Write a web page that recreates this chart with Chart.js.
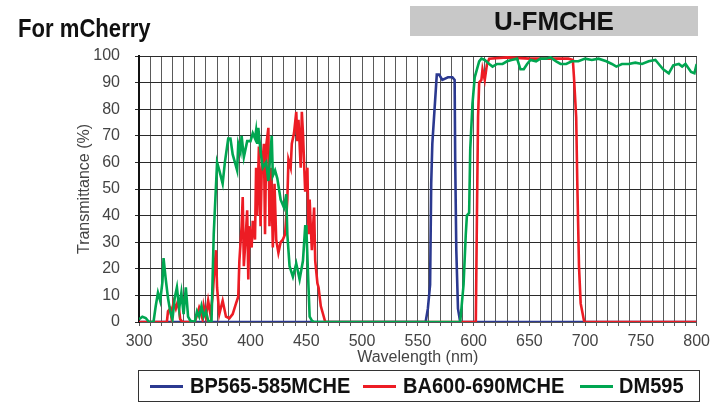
<!DOCTYPE html>
<html>
<head>
<meta charset="utf-8">
<script src="https://cdn.jsdelivr.net/npm/chart.js@4.4.0/dist/chart.umd.min.js"></script>
<style>
  html, body { margin: 0; padding: 0; background: #fff; }
  #wrap { position: relative; width: 716px; height: 405px; overflow: hidden; }
  #chart { position: absolute; left: 0; top: 0; }
  .bold { font-family: "Liberation Sans", Arial, sans-serif; font-weight: bold; color: #111; white-space: nowrap; }
  #title { position: absolute; left: 18px; top: 13px; font-size: 26px; transform: scaleX(0.85); transform-origin: left top; }
  #badge { position: absolute; left: 410px; top: 6px; width: 288px; height: 30px; background: #c8c8c8; }
  #badge span { position: absolute; left: 0; right: 0; top: 0; text-align: center; line-height: 31px; font-size: 26px; }
  #legend { position: absolute; left: 138px; top: 370px; width: 560px; height: 30px; border: 1px solid #333; }
  .swatch { position: absolute; top: 14px; width: 33px; height: 3px; }
  .label { position: absolute; top: 2px; font-size: 22px; line-height: 26px; transform: scaleX(0.91); transform-origin: left top; }
</style>
</head>
<body>
<div id="wrap">
  <canvas id="chart" width="716" height="405"></canvas>
  <div id="title" class="bold">For mCherry</div>
  <div id="badge"><span class="bold">U-FMCHE</span></div>
  <div id="legend"></div>
</div>
<script>
// Transmittance curves (wavelength nm / transmittance %)
const seriesNames = ['BP565-585MCHE', 'BA600-690MCHE', 'DM595'];
const seriesColors = ['#2b3990', '#ed1c24', '#00a651'];

const bpWl = [300, 557, 559, 561, 562, 563, 565, 567, 569, 572, 577, 581, 583, 583.5, 584.5, 586, 588, 800];
const bpT  = [0,   0,   5,   14,  52,  67,  80,  93,  93,  91,  92,  92,  91,  61,    27,    5,   0,   0];

const baWl = [300, 325, 326, 328, 329, 331, 333, 335, 337, 339, 350, 352, 354, 355, 357, 358, 360, 362, 364, 366,
              367, 369, 370, 372, 375, 378, 381, 384, 387, 389, 390, 392, 393, 394, 395.5, 397, 398, 399, 401, 402,
              404, 405, 406, 407.5, 409, 410, 412, 413, 414, 416, 417, 418.5, 420, 421.5, 423, 425, 427, 429, 431, 433,
              434, 436, 437, 439, 441, 442, 443, 445, 446, 447, 449, 451, 452, 453, 454, 455, 457, 458, 460, 461,
              463, 465, 467, 602, 603, 604, 605, 607, 608, 610, 612, 614, 630, 650, 670, 685, 689, 690, 692, 693,
              694.5, 696, 699, 700, 800];
const baT  = [0,   0,   4,   5,   2,   7.5, 5,   8,   1,   0,   0,   2.5, 5.5, 4.5, 1,   6,   2,   8,   3,   9.5,
              16,  27,  13,  3,   8,   2,   1.4, 3,   7,   9.5, 23,  36,  47,  21,  31,    42,  16,  36,  28,  38,
              31,  58,  40,  66,    36,  56,  67,  33,  66,  73,  36,  58,    28,  52,    31,  26,  30,  31,  33,  46,
              61,  58,  67,  71,  79,  68,  76,  58,  79,  71,  49,  58,  33,  46,  36,  27,  43,  23,  14.5, 13,
              6,   3,   0,   0,   40,  77,  90,  91,  95,  91,  97,  99,  99.5, 99, 99,  99,  98.5, 92, 77,  52,
              21,    7,   0.5, 0,   0];

const dmWl = [300, 303, 306, 309, 313, 315, 317, 319, 321, 322, 324, 326, 328, 330, 332, 334, 336, 338, 340, 342,
              344, 346, 350, 352, 354, 356, 358, 360, 362, 365, 367, 370, 372, 375, 377, 380, 382, 384, 386, 388,
              389, 391, 392, 394, 397, 400, 402, 404, 405, 406, 407, 409, 411, 414, 416, 419, 420, 422, 424, 427,
              430, 432, 433, 435, 438, 441, 444, 447, 449, 450, 452, 453, 455, 457, 588, 591, 593, 594, 596, 597,
              599, 601, 603, 605, 607, 610, 614, 617, 621, 626, 630, 634, 639, 642, 645, 648, 651, 656, 660, 665,
              669, 674, 678, 683, 688, 694, 700, 706, 712, 719, 724, 728, 733, 739, 745, 751, 757, 763, 766, 770,
              775, 779, 784, 787, 790, 795, 798, 800];
const dmT  = [1,   2,   1.5, 0,   0,   6,   11,  8,   15,  24,  16,  9,   4,   1,   9,   13,  5,   11,  3,   13,
              2,   0.5, 0,   4,   2,   6,   2,   4,   0.5, 0,   33,  60,  57,  52,  60,  69,  69,  63,  60,  57,
              67,  64,  70,  62,  68,  68,  71,  69,  72,  67,  73,  64,  58,  60,  53,  70,  55,  57,  54,  46,
              43,  48,  33,  21,  17,  22,  16,  23,  36,  36,  13,  2,   0.5, 0,   0,   14,  33,  40,  41,  65,
              82,  92,  95,  98,  99,  98.5, 97, 96,  97,  97,  98,  98.5, 99, 95,  95,  97,  98.5, 98, 99,  99,
              99.5, 98, 97,  97,  98,  98,  99,  98.5, 99, 98,  97,  96,  97,  97,  97.5, 97, 98,  98.5, 97, 95,
              93.5, 96.5, 97, 96,  97,  94,  93.5, 97];

const yTicks = [0, 10, 20, 30, 40, 50, 60, 70, 80, 90, 100];
const xLabels = [300, 350, 400, 450, 500, 550, 600, 650, 700, 750, 800];

const toPoints = (wl, t) => wl.map((w, i) => ({x: w, y: t[i]}));
const allWl = [bpWl, baWl, dmWl];
const allT = [bpT, baT, dmT];

// boxed legend, laid out like the original
const legendEl = document.getElementById('legend');
const swatchLeft = [11, 224, 441];
const labelLeft = [51, 264, 480];
seriesNames.forEach((name, i) => {
  const sw = document.createElement('span');
  sw.className = 'swatch';
  sw.style.left = swatchLeft[i] + 'px';
  sw.style.background = seriesColors[i];
  legendEl.appendChild(sw);
  const lb = document.createElement('span');
  lb.className = 'label bold';
  lb.style.left = labelLeft[i] + 'px';
  lb.textContent = name;
  legendEl.appendChild(lb);
});

const tickFont = {family: 'Liberation Sans', size: 16};

new Chart(document.getElementById('chart'), {
  type: 'line',
  data: {
    datasets: seriesNames.map((name, i) => ({
      label: name,
      data: toPoints(allWl[i], allT[i]),
      borderColor: seriesColors[i],
      backgroundColor: seriesColors[i],
      borderWidth: 2.6,
      pointRadius: 0,
      tension: 0,
      order: 3 - i   // green on top, blue at the bottom
    }))
  },
  options: {
    responsive: false,
    animation: false,
    layout: {padding: {top: 56, right: 18, bottom: 0, left: 0}},
    plugins: {legend: {display: false}, tooltip: {enabled: false}},
    scales: {
      x: {
        type: 'linear', min: 300, max: 800,
        afterFit: s => { s.height = 83; },
        ticks: {
          stepSize: 10, autoSkip: false, maxRotation: 0, padding: 6,
          color: '#444', font: tickFont,
          callback: v => xLabels.includes(v) ? String(v) : ''
        },
        grid: {color: '#5a5a5a', lineWidth: 1, tickLength: 4},
        border: {color: '#555'},
        title: {display: true, text: 'Wavelength (nm)', color: '#444', font: tickFont, padding: {top: 0, bottom: 38}}
      },
      y: {
        min: 0, max: 100,
        afterFit: s => { s.width = 139; },
        afterBuildTicks: s => { s.ticks = yTicks.map(v => ({value: v})); },
        ticks: {color: '#444', font: tickFont, padding: 15},
        grid: {color: '#2a2a2a', lineWidth: 1, tickLength: 4},
        border: {color: '#111', width: 2},
        title: {display: true, text: 'Transmittance (%)', color: '#444', font: tickFont, padding: {top: 75, bottom: 0}}
      }
    }
  }
});
</script>
</body>
</html>
